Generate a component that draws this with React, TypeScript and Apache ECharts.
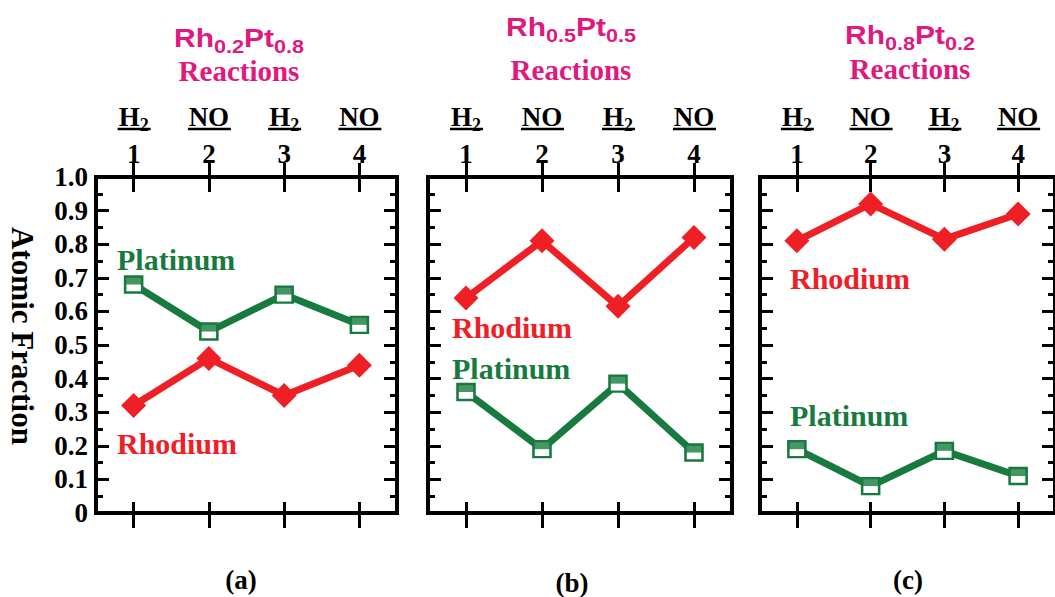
import React, { useEffect, useRef } from 'react';
import * as echarts from 'echarts';

// ---- data ----
const cycles = ['1', '2', '3', '4'];
const gases = ['H2', 'NO', 'H2', 'NO'];
const panelLetters = ['(a)', '(b)', '(c)'];
const rhSub = ['0.2', '0.5', '0.8'];
const ptSub = ['0.8', '0.5', '0.2'];
const rhodiumA = [0.32, 0.46, 0.35, 0.44];
const platinumA = [0.68, 0.54, 0.65, 0.56];
const rhodiumB = [0.64, 0.81, 0.615, 0.82];
const platinumB = [0.36, 0.19, 0.385, 0.18];
const rhodiumC = [0.81, 0.92, 0.815, 0.89];
const platinumC = [0.19, 0.08, 0.185, 0.11];
const yMin = 0;
const yMax = 1;
const yStep = 0.1;

const rhodium = [rhodiumA, rhodiumB, rhodiumC];
const platinum = [platinumA, platinumB, platinumC];

// ---- layout / style ----
const RED = '#ee2026';
const GREEN = '#177a3e';
const PINK = '#e0197f';
const SERIF = 'Liberation Serif, Times New Roman, serif';
const SANS = 'Liberation Sans, Arial, sans-serif';
const GRID_TOP = 177;
const GRID_H = 336;
const grids = [
  { left: 96, width: 301 },
  { left: 428, width: 304 },
  { left: 760, width: 302 },
];
const titleX = [239, 571, 910];
const titleY1 = [38, 27, 35];
const titleY2 = [71, 70, 69];
const letterPos = [[241, 580], [572, 583], [908, 580]];
const rhLabelPos = [[117, 443], [452, 327], [790, 278]];
const ptLabelPos = [[117, 259], [452, 368], [790, 415]];

function txt(text: string, x: number, y: number, fill: string, size: number, family: string, align: string, weight = 'bold', extra: any = {}) {
  return {
    type: 'text', x, y, ...extra,
    style: {
      text, fill, fontSize: size, fontFamily: family, fontWeight: weight,
      align, verticalAlign: 'middle', textAlign: align, textVerticalAlign: 'middle',
    },
  };
}

function buildOption() {
  const grid: any[] = [];
  const xAxis: any[] = [];
  const yAxis: any[] = [];
  const series: any[] = [];
  grids.forEach((g, gi) => {
    grid.push({
      left: g.left, top: GRID_TOP, width: g.width, height: GRID_H,
      show: true, borderColor: '#000', borderWidth: 4, backgroundColor: 'transparent',
      containLabel: false,
    });
    const baseX = {
      type: 'category', data: cycles, gridIndex: gi, boundaryGap: true,
      axisLine: { show: false }, splitLine: { show: false },
      axisLabel: { show: false },
    };
    xAxis.push({ ...baseX, position: 'bottom', axisTick: { show: true, alignWithLabel: true, inside: false, length: 15, lineStyle: { color: '#000', width: 3 } } });
    xAxis.push({ ...baseX, position: 'bottom', axisTick: { show: true, alignWithLabel: true, inside: true, length: 11, lineStyle: { color: '#000', width: 3 } } });
    xAxis.push({
      ...baseX, position: 'top',
      axisTick: { show: true, alignWithLabel: true, inside: false, length: 14, lineStyle: { color: '#000', width: 3 } },
      axisLabel: {
        show: true, interval: 0, margin: 8, color: '#000',
        formatter: (v: string, i: number) =>
          (gases[i] === 'H2' ? '{r|H}{s|2}' : '{r|' + gases[i] + '}') + '\n{n|' + v + '}',
        rich: {
          r: { fontFamily: SERIF, fontWeight: 'bold', fontSize: 27, lineHeight: 44, color: '#000' },
          s: { fontFamily: SERIF, fontWeight: 'bold', fontSize: 18, padding: [15, 0, 0, 0], color: '#000' },
          n: { fontFamily: SERIF, fontWeight: 'bold', fontSize: 27, lineHeight: 30, color: '#000' },
        },
      },
    });
    xAxis.push({ ...baseX, position: 'top', axisTick: { show: true, alignWithLabel: true, inside: true, length: 15, lineStyle: { color: '#000', width: 3 } } });

    const baseY = {
      type: 'value', min: yMin, max: yMax, interval: yStep, gridIndex: gi,
      axisLine: { show: false }, splitLine: { show: false },
      axisTick: { show: true, inside: true, length: 13, lineStyle: { color: '#000', width: 3 } },
      minorTick: { show: true, splitNumber: 2, length: 7, lineStyle: { color: '#000', width: 3 } },
      minorSplitLine: { show: false },
    };
    yAxis.push({
      ...baseY, position: 'left',
      axisLabel: {
        show: gi === 0, margin: 8, color: '#000', fontFamily: SERIF, fontWeight: 'bold', fontSize: 27,
        formatter: (v: number) => (v === 0 ? '0' : v.toFixed(1)),
      },
    });
    yAxis.push({ ...baseY, position: 'right', axisLabel: { show: false } });

    series.push({
      type: 'line', name: 'Rhodium', xAxisIndex: gi * 4, yAxisIndex: gi * 2,
      data: rhodium[gi], symbol: 'diamond', symbolSize: 25,
      lineStyle: { color: RED, width: 7 }, itemStyle: { color: RED }, z: 3,
    });
    series.push({
      type: 'line', name: 'Platinum', xAxisIndex: gi * 4, yAxisIndex: gi * 2,
      data: platinum[gi], symbol: 'rect', symbolSize: [17, 16],
      lineStyle: { color: GREEN, width: 7 },
      itemStyle: { color: '#fff', borderColor: GREEN, borderWidth: 2.5 }, z: 3,
    });
    series.push({
      type: 'scatter', name: 'Platinum top', xAxisIndex: gi * 4, yAxisIndex: gi * 2,
      data: platinum[gi], symbol: 'rect', symbolSize: [17, 8], symbolOffset: [0, -4],
      itemStyle: { color: GREEN }, z: 4,
    });
  });
  return {
    animation: false,
    backgroundColor: '#fff',
    grid, xAxis, yAxis, series,
  };
}

function buildGraphics(chart: any) {
  const els: any[] = [];
  grids.forEach((g, gi) => {
    els.push({
      type: 'text', x: titleX[gi], y: titleY1[gi], scaleX: 1.2,
      style: {
        text: '{m|Rh}{s|' + rhSub[gi] + '}{m|Pt}{s|' + ptSub[gi] + '}',
        align: 'center', verticalAlign: 'middle', textAlign: 'center', textVerticalAlign: 'middle',
        rich: {
          m: { fontFamily: SANS, fontWeight: 'bold', fontSize: 25, lineHeight: 30, fill: PINK },
          s: { fontFamily: SANS, fontWeight: 'bold', fontSize: 18, padding: [18, 0, 0, 0], fill: PINK },
        },
      },
    });
    els.push(txt('Reactions', titleX[gi], titleY2[gi], PINK, 29, SERIF, 'center'));
    els.push(txt(panelLetters[gi], letterPos[gi][0], letterPos[gi][1], '#000', 27, SERIF, 'center'));
    els.push(txt('Rhodium', rhLabelPos[gi][0], rhLabelPos[gi][1], RED, 30, SERIF, 'left'));
    els.push(txt('Platinum', ptLabelPos[gi][0], ptLabelPos[gi][1], GREEN, 30, SERIF, 'left'));
    cycles.forEach((c, ci) => {
      const px = chart.convertToPixel({ xAxisIndex: gi * 4 }, c);
      if (typeof px !== 'number' || isNaN(px)) return;
      const half = gases[ci] === 'NO' ? 21 : 16;
      els.push({
        type: 'line',
        shape: { x1: px - half, y1: 129, x2: px + half + 1, y2: 129 },
        style: { stroke: '#000', lineWidth: 2.5 },
      });
    });
  });
  els.push(txt('Atomic Fraction', 22, 336, '#000', 31, SERIF, 'center', 'bold', { rotation: -Math.PI / 2 }));
  return els;
}

export default function App() {
  const ref = useRef<HTMLDivElement>(null);
  useEffect(() => {
    if (!ref.current) return;
    const chart = echarts.init(ref.current, undefined, { renderer: 'svg' });
    chart.setOption(buildOption() as any);
    chart.setOption({ graphic: buildGraphics(chart) } as any);
    return () => chart.dispose();
  }, []);
  return (
    <div
      ref={ref}
      style={{ position: 'fixed', left: 0, top: 0, width: 1055, height: 597, background: '#fff' }}
    />
  );
}
